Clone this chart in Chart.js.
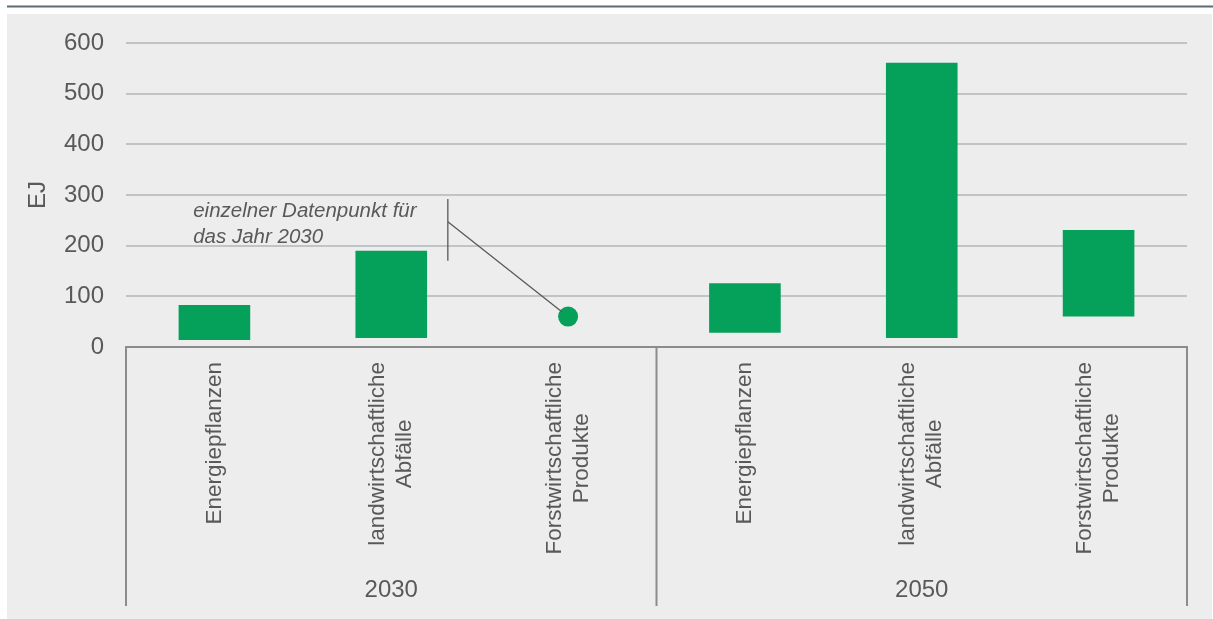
<!DOCTYPE html>
<html lang="de">
<head>
<meta charset="utf-8">
<script src="https://cdn.jsdelivr.net/npm/chart.js@4.4.1/dist/chart.umd.min.js"></script>
<style>
  html, body { margin: 0; padding: 0; background: #fff; }
  #wrap { width: 1213px; height: 619px; }
</style>
</head>
<body>
<div id="wrap"><canvas id="grafico" width="1213" height="619"></canvas></div>
<script>
'use strict';

// Daten
const kategorien = [
  'Energiepflanzen', ['landwirtschaftliche', 'Abfälle'], ['Forstwirtschaftliche', 'Produkte'],
  'Energiepflanzen', ['landwirtschaftliche', 'Abfälle'], ['Forstwirtschaftliche', 'Produkte']
];
const jahre = ['2030', '2050'];
const proJahr = 3;
const spanneVon = [14, 18, null, 28, 18, 60];
const spanneBis = [83, 190, null, 126, 561, 231];
const einzelpunkt = [null, null, 60, null, null, null];
const yTicks = [0, 100, 200, 300, 400, 500, 600];
const notizZeilen = ['einzelner Datenpunkt für', 'das Jahr 2030'];

const GRUEN = '#05a15a';
const TEXT = '#595959';
const FONT = '"Liberation Sans", Arial, sans-serif';

// Notiz-Anker in Dateneinheiten (x = Kategorie-Index, y = EJ)
const notiz = { x: -0.12, y: [256, 206], strichX: 1.32, strichVon: 292, strichBis: 170, abzweigY: 247 };

const rahmen = {
  id: 'rahmen',
  beforeDraw(chart) {
    const ctx = chart.ctx;
    ctx.save();
    ctx.fillStyle = '#fff';
    ctx.fillRect(0, 0, chart.width, chart.height);
    ctx.fillStyle = '#5f6b73';
    ctx.fillRect(7, 5.5, chart.width - 7, 2);
    ctx.fillStyle = '#ededed';
    ctx.fillRect(7, 14, chart.width - 8, chart.height - 14);
    ctx.restore();
  },
  afterDraw(chart) {
    const ctx = chart.ctx;
    const x = chart.scales.x, y = chart.scales.y;
    ctx.save();

    // Trennlinien der Jahresgruppen
    ctx.strokeStyle = '#8c8c8c';
    ctx.lineWidth = 2;
    const grenzen = [x.left];
    for (let g = 1; g < jahre.length; g++) {
      grenzen.push((x.getPixelForValue(g * proJahr - 1) + x.getPixelForValue(g * proJahr)) / 2);
    }
    grenzen.push(x.right);
    grenzen.forEach(px => {
      ctx.beginPath();
      ctx.moveTo(px, x.top);
      ctx.lineTo(px, x.top + 259);
      ctx.stroke();
    });

    // Kategorie-Beschriftungen (gedreht, Zeilen zentriert)
    ctx.fillStyle = TEXT;
    ctx.font = '22.5px ' + FONT;
    kategorien.forEach((k, i) => {
      const zeilen = Array.isArray(k) ? k : [k];
      const cx = x.getPixelForValue(i);
      const maxW = Math.max(...zeilen.map(z => ctx.measureText(z).width));
      const lh = 27;
      ctx.save();
      ctx.translate(cx, x.top + 15 + maxW / 2);
      ctx.rotate(-Math.PI / 2);
      ctx.textAlign = 'center';
      ctx.textBaseline = 'middle';
      zeilen.forEach((z, j) => ctx.fillText(z, 0, (j - (zeilen.length - 1) / 2) * lh));
      ctx.restore();
    });

    // Jahre
    ctx.font = '24px ' + FONT;
    ctx.textAlign = 'center';
    ctx.textBaseline = 'middle';
    jahre.forEach((j, g) => {
      const mitte = (x.getPixelForValue(g * proJahr) + x.getPixelForValue(g * proJahr + proJahr - 1)) / 2;
      ctx.fillText(j, mitte, x.top + 243);
    });

    // Notiz
    ctx.font = 'italic 20.5px ' + FONT;
    ctx.textAlign = 'left';
    ctx.textBaseline = 'alphabetic';
    notizZeilen.forEach((z, j) => ctx.fillText(z, x.getPixelForValue(notiz.x), y.getPixelForValue(notiz.y[j])));

    const sx = x.getPixelForValue(notiz.strichX);
    ctx.strokeStyle = '#595959';
    ctx.lineWidth = 1.3;
    ctx.beginPath();
    ctx.moveTo(sx, y.getPixelForValue(notiz.strichVon));
    ctx.lineTo(sx, y.getPixelForValue(notiz.strichBis));
    ctx.stroke();

    const idx = einzelpunkt.findIndex(v => v !== null);
    const px = x.getPixelForValue(idx), py = y.getPixelForValue(einzelpunkt[idx]);
    const ay = y.getPixelForValue(notiz.abzweigY);
    const dx = px - sx, dy = py - ay, len = Math.hypot(dx, dy);
    ctx.beginPath();
    ctx.moveTo(sx, ay);
    ctx.lineTo(px - dx / len * 8, py - dy / len * 8);
    ctx.stroke();

    ctx.restore();
  }
};

const labels = kategorien.map(k => Array.isArray(k) ? k.join(' ') : k);

new Chart(document.getElementById('grafico').getContext('2d'), {
  type: 'bar',
  data: {
    labels: labels,
    datasets: [
      {
        label: 'Spanne',
        data: spanneVon.map((v, i) => v === null ? null : [v, spanneBis[i]]),
        backgroundColor: GRUEN,
        borderWidth: 0,
        categoryPercentage: 1,
        barPercentage: 0.405
      },
      {
        type: 'line',
        label: 'Einzelner Datenpunkt',
        data: einzelpunkt,
        showLine: false,
        pointRadius: 10,
        pointHoverRadius: 10,
        pointBackgroundColor: GRUEN,
        pointBorderWidth: 0
      }
    ]
  },
  options: {
    responsive: false,
    animation: false,
    layout: { padding: { top: 43, right: 26, left: 0, bottom: 0 } },
    plugins: { legend: { display: false }, tooltip: { enabled: false } },
    scales: {
      x: {
        grid: { display: false, drawTicks: false },
        border: { display: true, color: '#8c8c8c', width: 2 },
        ticks: { display: false },
        afterFit: s => { s.height = 272; }
      },
      y: {
        min: 0, max: 600,
        afterBuildTicks: s => { s.ticks = yTicks.map(v => ({ value: v })); },
        ticks: { padding: 22, color: TEXT, font: { family: FONT, size: 24 } },
        grid: { color: c => c.tick && c.tick.value === 0 ? 'rgba(0,0,0,0)' : '#c1c4c7', lineWidth: 2, drawTicks: false },
        border: { display: false },
        title: { display: true, text: 'EJ', color: TEXT, font: { family: '"Liberation Sans Narrow", ' + FONT, size: 24 }, padding: { top: 24 } },
        afterFit: s => { s.width = 126; }
      }
    }
  },
  plugins: [rahmen]
});
</script>
</body>
</html>
